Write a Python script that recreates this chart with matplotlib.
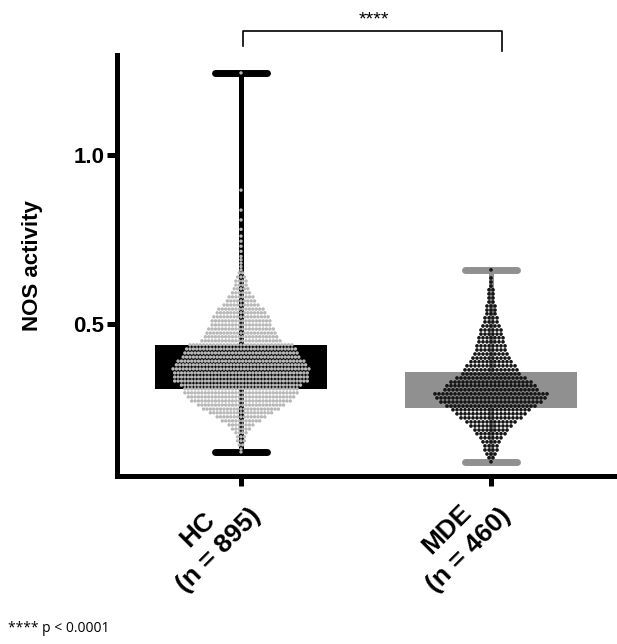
import numpy as np
import matplotlib
matplotlib.use("Agg")
import matplotlib.pyplot as plt
from matplotlib.transforms import ScaledTranslation

plt.rcParams["font.family"] = ["Liberation Sans", "DejaVu Sans"]

# groups and summary values
groups = ["HC\n(n = 895)", "MDE\n(n = 460)"]
box_low = [0.308, 0.251]
box_high = [0.438, 0.358]
whisk_low = [0.121, 0.092]
whisk_high = [1.243, 0.660]

# HC swarm rows (value, number of dots in the row), bottom to top
hc_levels = [0.130, 0.142, 0.154, 0.166, 0.178, 0.189, 0.201, 0.213, 0.225, 0.237,
             0.248, 0.260, 0.272, 0.284, 0.296, 0.308, 0.319, 0.331, 0.343, 0.355,
             0.367, 0.379, 0.390, 0.402, 0.414, 0.426, 0.438, 0.450, 0.462, 0.473,
             0.485, 0.497, 0.509, 0.521, 0.533, 0.544, 0.556, 0.568, 0.580, 0.592,
             0.604, 0.615, 0.627, 0.639, 0.651]
hc_counts = [1, 2, 3, 3, 4, 6, 8, 12, 15, 19,
             23, 26, 30, 32, 34, 34, 36, 40, 40, 40,
             41, 39, 38, 35, 34, 33, 31, 24, 22, 21,
             20, 18, 18, 17, 15, 14, 11, 9, 8, 6,
             5, 4, 4, 3, 2]
hc_single = [0.121, 0.660, 0.670, 0.680, 0.690, 0.700, 0.715, 0.730, 0.745,
             0.760, 0.780, 0.808, 0.837, 0.896, 1.243]

# MDE swarm rows, bottom to top
mde_levels = [0.104, 0.115, 0.127, 0.139, 0.151, 0.163, 0.175, 0.186, 0.198, 0.210,
              0.222, 0.234, 0.246, 0.257, 0.269, 0.281, 0.293, 0.305, 0.317, 0.328,
              0.340, 0.352, 0.364, 0.376, 0.388, 0.399, 0.411, 0.423, 0.435, 0.447,
              0.459, 0.470, 0.482, 0.494, 0.506, 0.518, 0.530, 0.541, 0.553, 0.565,
              0.577, 0.589, 0.601, 0.612, 0.624, 0.636]
mde_counts = [2, 3, 4, 4, 5, 6, 8, 9, 11, 13,
              16, 18, 20, 23, 26, 28, 29, 24, 23, 21,
              18, 15, 14, 13, 11, 10, 9, 8, 8, 7,
              7, 6, 6, 5, 4, 4, 3, 3, 3, 2,
              2, 2, 2, 1, 1, 1]
mde_single = [0.092, 0.660]

box_colors = ["black", "#909090"]
dot_colors = ["#b8b8b8", "#151515"]


def swarm(levels, counts, singles, dx):
    xs, ys = [], []
    for y, n in zip(levels, counts):
        for i in range(n):
            xs.append((i - (n - 1) / 2) * dx)
            ys.append(y)
    for y in singles:
        xs.append(0.0)
        ys.append(y)
    return np.array(xs), np.array(ys)


fig = plt.figure(figsize=(6.17, 6.44), dpi=100)
ax = fig.add_axes([0.1896, 0.2609, 0.8104, 0.6537])

pos = np.arange(len(groups))
ax.bar(pos, np.array(box_high) - np.array(box_low), bottom=box_low, width=0.69,
       color=box_colors, edgecolor="none", zorder=1)
for i in range(len(groups)):
    ax.plot([pos[i], pos[i]], [whisk_low[i], whisk_high[i]], color=box_colors[i],
            lw=3.6, solid_capstyle="butt", zorder=1)
    for yc in (whisk_low[i], whisk_high[i]):
        ax.plot([pos[i] - 0.105, pos[i] + 0.105], [yc, yc], color=box_colors[i],
                lw=5, solid_capstyle="round", zorder=1)

hx, hy = swarm(hc_levels, hc_counts, hc_single, 0.0136)
ax.scatter(hx + pos[0], hy, s=6, color=dot_colors[0], edgecolors="none", zorder=3)
mx, my = swarm(mde_levels, mde_counts, mde_single, 0.016)
ax.scatter(mx + pos[1], my, s=7, color=dot_colors[1], edgecolors="none", zorder=3)

ax.set_xlim(-0.496, 1.504)
ax.set_ylim(0.05, 1.296)
ax.set_yticks([0.5, 1.0])
ax.set_yticklabels(["0.5", "1.0"], fontsize=16, fontweight="bold")
ax.set_xticks(pos)
ax.set_xticklabels(groups, fontsize=19, fontweight="bold", rotation=45,
                   ha="right", va="top", rotation_mode="anchor", multialignment="center",
                   linespacing=1.3)
ax.tick_params(axis="both", length=7, width=3.6, pad=2)
ax.tick_params(axis="x", pad=0)
shift = ScaledTranslation(-0.14, 0.03, fig.dpi_scale_trans)
for lab in ax.get_xticklabels():
    lab.set_transform(lab.get_transform() + shift)
ax.set_ylabel("NOS activity", fontsize=16, fontweight="bold", labelpad=22)

for s in ["top", "right"]:
    ax.spines[s].set_visible(False)
for s in ["left", "bottom"]:
    ax.spines[s].set_linewidth(3.6)

# significance bracket
ax.plot([0.01, 0.01, 1.045, 1.045], [1.322, 1.367, 1.367, 1.308], color="black",
        lw=1.2, clip_on=False)
ax.text(0.53, 1.40, "****", ha="center", va="center", fontsize=14, clip_on=False)

fig.text(8 / 617, 1 - 628 / 644, "**** p < 0.0001", fontsize=10, family="Open Sans",
         va="center", ha="left")

fig.savefig("out.png", dpi=100)
